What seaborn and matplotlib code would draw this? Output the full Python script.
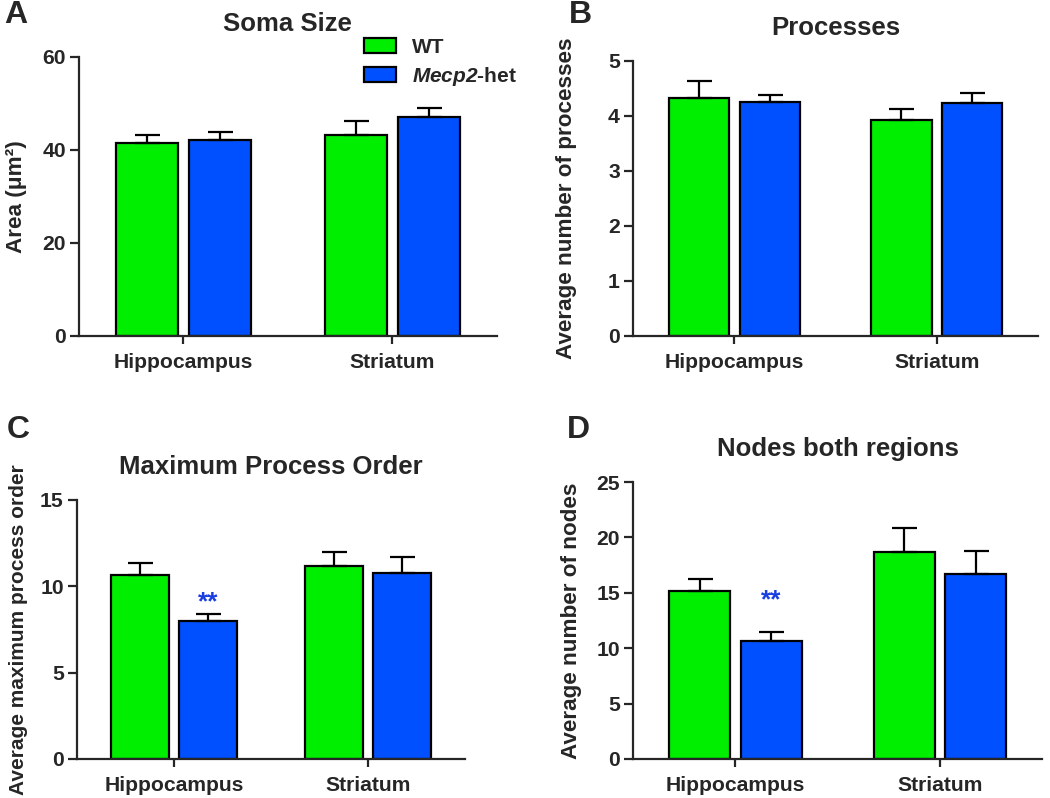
import numpy as np
import pandas as pd
import matplotlib
matplotlib.use('Agg')
import matplotlib.pyplot as plt
import seaborn as sns

# values (mean, SEM)
regions = ['Hippocampus', 'Striatum']
genotypes = ['WT', 'Mecp2-het']

soma_wt = [41.6, 43.3]
soma_wt_sem = [1.7, 2.9]
soma_het = [42.1, 47.1]
soma_het_sem = [1.7, 1.9]

proc_wt = [4.32, 3.93]
proc_wt_sem = [0.32, 0.19]
proc_het = [4.25, 4.23]
proc_het_sem = [0.14, 0.19]

order_wt = [10.68, 11.18]
order_wt_sem = [0.66, 0.83]
order_het = [7.98, 10.76]
order_het_sem = [0.39, 0.96]

nodes_wt = [15.13, 18.65]
nodes_wt_sem = [1.09, 2.2]
nodes_het = [10.68, 16.67]
nodes_het_sem = [0.81, 2.1]

# y position of the ** marks (panels C and D)
stars_order_y = 9.1
stars_nodes_y = 14.3

green = '#00EE00'
blue = '#0050FF'
star_blue = '#1A3FE0'

sns.set_style('ticks')
plt.rcParams['font.family'] = ['Liberation Sans', 'DejaVu Sans']
plt.rcParams['font.weight'] = 'bold'
plt.rcParams['axes.labelweight'] = 'bold'
plt.rcParams['axes.titleweight'] = 'bold'
plt.rcParams['mathtext.fontset'] = 'custom'
plt.rcParams['mathtext.it'] = 'Liberation Sans:italic:bold'
plt.rcParams['mathtext.rm'] = 'Liberation Sans:italic:bold'  # digits inside \mathit go through rm

fig = plt.figure(figsize=(10.5, 7.98), dpi=100)


def panel(rect, wt, wt_sem, het, het_sem, title, ylabel, ylim, yticks, labx, labsize=16.2):
    ax = fig.add_axes(rect)
    df = pd.DataFrame({
        'region': regions * 2,
        'genotype': [genotypes[0]] * 2 + [genotypes[1]] * 2,
        'value': wt + het,
    })
    sns.barplot(data=df, x='region', y='value', hue='genotype',
                order=regions, hue_order=genotypes,
                palette=[green, blue], saturation=1, width=0.7, gap=0.15,
                edgecolor='black', linewidth=1.6, errorbar=None,
                legend=False, ax=ax)
    for cont, errs in zip(ax.containers, [wt_sem, het_sem]):
        for bar, e in zip(cont, errs):
            x = bar.get_x() + bar.get_width() / 2
            ax.errorbar(x, bar.get_height(), yerr=[[0], [e]], color='black',
                        capsize=9, capthick=1.6, elinewidth=1.6)
    ax.set_xlim(-0.5, 1.5)
    ax.set_ylim(*ylim)
    ax.set_yticks(yticks)
    ax.set_xlabel('')
    ax.set_ylabel(ylabel, fontsize=labsize)
    ax.yaxis.set_label_coords(labx, 0.5)
    ax.set_title(title, fontsize=18.5, pad=19)
    sns.despine(ax=ax)
    for s in ['left', 'bottom']:
        ax.spines[s].set_linewidth(1.6)
    ax.tick_params(axis='both', width=1.6, labelsize=15.2)
    ax.tick_params(axis='y', length=6.5, pad=3)
    ax.tick_params(axis='x', length=6, pad=6)
    return ax


axA = panel([0.0752, 0.579, 0.398, 0.3496], soma_wt, soma_wt_sem, soma_het, soma_het_sem,
            'Soma Size', 'Area (μm²)', (0, 60), [0, 20, 40, 60], -0.124)
axB = panel([0.603, 0.579, 0.3857, 0.3446], proc_wt, proc_wt_sem, proc_het, proc_het_sem,
            'Processes', 'Average number of processes', (0, 5), [0, 1, 2, 3, 4, 5], -0.138)
axC = panel([0.0733, 0.0489, 0.3695, 0.3246], order_wt, order_wt_sem, order_het, order_het_sem,
            'Maximum Process Order', 'Average maximum process order', (0, 15), [0, 5, 10, 15],
            -0.126, labsize=15.0)
axD = panel([0.603, 0.0489, 0.3895, 0.347], nodes_wt, nodes_wt_sem, nodes_het, nodes_het_sem,
            'Nodes both regions', 'Average number of nodes', (0, 25), [0, 5, 10, 15, 20, 25], -0.125)

# stars over the Mecp2-het hippocampus bar
for ax, sy in [(axC, stars_order_y), (axD, stars_nodes_y)]:
    bar = ax.containers[1][0]
    ax.text(bar.get_x() + bar.get_width() / 2, sy, '**', color=star_blue,
            fontsize=19, fontweight='bold', ha='center', va='center')

handles = [axA.containers[0][0], axA.containers[1][0]]
fig.legend(handles, ['WT', r'$\mathit{Mecp2}$-het'], loc='upper left',
           bbox_to_anchor=(0.3467, 0.953), frameon=False, fontsize=15,
           handlelength=1.55, handleheight=0.7, handletextpad=0.75,
           labelspacing=0.4, borderpad=0, borderaxespad=0)

for letter, x, y in [('A', 0.004, 0.971), ('B', 0.542, 0.971),
                     ('C', 0.006, 0.451), ('D', 0.540, 0.451)]:
    fig.text(x, y, letter, fontsize=23, fontweight='bold', va='baseline')

fig.savefig('out.png', dpi=100)
